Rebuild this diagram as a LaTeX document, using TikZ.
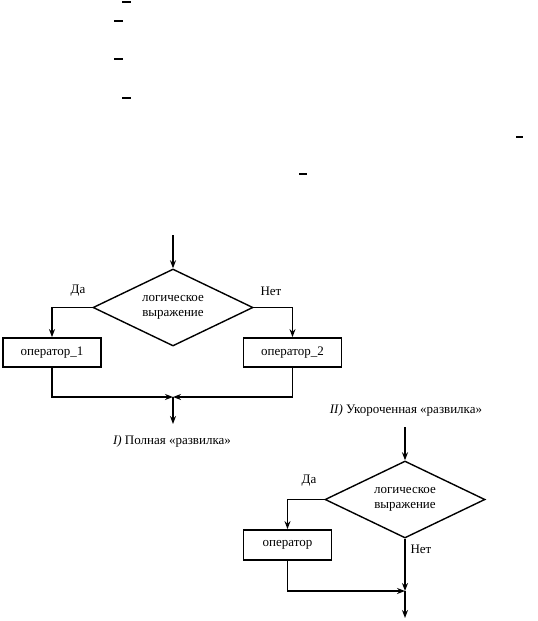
\documentclass[tikz,border=0pt]{standalone}
\usepackage{fontspec}
\setmainfont{Liberation Serif}
\usepackage{tikz}
\usetikzlibrary{positioning,shapes.geometric,arrows.meta}

\begin{document}
\begin{tikzpicture}[x=1pt, y=-1pt,
    font=\fontsize{13}{14.5}\selectfont,
    cond/.style={diamond, aspect=2, draw, line width=1.4pt, minimum width=160pt, minimum height=77pt,
                 inner sep=0pt, align=center},
    opbox/.style={rectangle, draw, line width=1.8pt, minimum height=29pt, inner sep=2pt},
    arr/.style={-{Stealth[length=8pt, width=6pt]}, line width=1.4pt},
    tick/.style={line width=1.5pt},
]
\useasboundingbox (0,0) rectangle (538,621);

% stray marks at the top
\draw[tick] (122,2) -- (131,2);
\draw[tick] (114,21) -- (123,21);
\draw[tick] (114,59) -- (123,59);
\draw[tick] (122,98) -- (131,98);
\draw[tick] (516,137) -- (523,137);
\draw[tick] (299,174) -- (307,174);

% I) full branch
\coordinate (in1) at (173,235);
\node[cond] (cond1) at (173,307.5) {логическое\\выражение};
\node[opbox, minimum width=98pt] (op1) at (52,352.5) {оператор\_1};
\node[opbox, minimum width=98pt] (op2) at (292.5,352.5) {оператор\_2};
\coordinate (join1) at (173,397);
\coordinate (out1) at (173,424);

\draw[arr] (in1) -- (cond1.north);
\draw[arr] (cond1.west) -| (op1.north);
\draw[arr] (cond1.east) -| (op2.north);
\draw[arr] (op1.south) |- (join1);
\draw[arr] (op2.south) |- (join1);
\draw[arr] (join1) -- (out1);

\node at (78,291) {Да};
\node at (271,291) {Нет};
\node (cap1) at (172,441) {\textit{I)} Полная «развилка»};

% II) short branch
\node (cap2) at (406,410) {\textit{II)} Укороченная «развилка»};
\coordinate (in2) at (405,427);
\node[cond] (cond2) at (405,499.5) {логическое\\выражение};
\node[opbox, minimum width=88pt, minimum height=30pt] (op3) at (287.5,545) {оператор};
\coordinate (join2) at (405,591);
\coordinate (out2) at (405,618);

\draw[arr] (in2) -- (cond2.north);
\draw[arr] (cond2.west) -| (op3.north);
\draw[arr] (cond2.south) -- (join2);
\draw[arr] (op3.south) |- (join2);
\draw[arr] (join2) -- (out2);

\node at (309,481) {Да};
\node at (421,549) {Нет};
\end{tikzpicture}
\end{document}
